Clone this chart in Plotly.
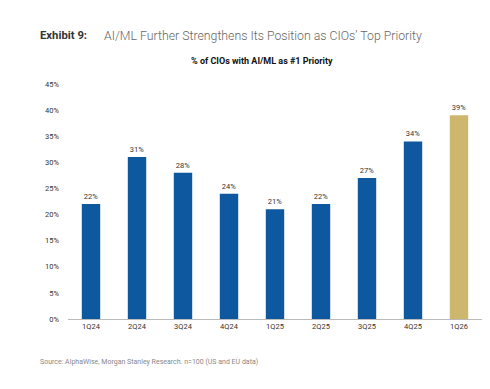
import plotly.graph_objects as go

categories = ["1Q24", "2Q24", "3Q24", "4Q24", "1Q25", "2Q25", "3Q25", "4Q25", "1Q26"]
values = [22, 31, 28, 24, 21, 22, 27, 34, 39]
bar_colors = ["#0E58A0"] * 8 + ["#CDB76E"]
y_ticks = [0, 5, 10, 15, 20, 25, 30, 35, 40, 45]
y_tick_labels = [f"{v}%" for v in y_ticks]

# page body has an 8px default margin; size the figure to fill the rest
OFF = 8
W, H = 490 - OFF, 389 - OFF
l, r, t, b = 68 - OFF, 8, 84 - OFF, 70

fig = go.Figure(go.Bar(
    x=categories, y=values,
    marker=dict(color=bar_colors, line=dict(width=0)),
    text=[f"{v}%" for v in values], textposition="outside",
    textfont=dict(size=7.5, color="#333333", family="Roboto"),
    cliponaxis=False, width=0.4,
))

fig.update_layout(
    width=W, height=H,
    margin=dict(l=l, r=r, t=t, b=b, autoexpand=False),
    plot_bgcolor="white", paper_bgcolor="white",
    showlegend=False,
    font=dict(family="Roboto", color="#333333"),
    xaxis=dict(showline=True, linecolor="#BBBBBB", linewidth=1, ticks="",
               tickfont=dict(size=7.5, color="#333333"), showgrid=False,
               automargin=False),
    yaxis=dict(range=[0, 45], tickvals=y_ticks, ticktext=y_tick_labels,
               showgrid=False, zeroline=False, showline=False, ticks="",
               tickfont=dict(size=7.5, color="#333333"), ticklabelstandoff=8,
               automargin=False),
)

pw, ph = W - l - r, H - t - b
def px(x): return (x - OFF - l) / pw
def py(y): return (H - b - (y - OFF)) / ph

fig.add_annotation(text="<b>Exhibit 9:</b>", x=px(38), y=py(36), xref="paper", yref="paper",
                   xanchor="left", yanchor="middle", showarrow=False,
                   font=dict(size=11.3, color="#333333", family="Roboto"))
fig.add_annotation(text="AI/ML Further Strengthens Its Position as CIOs’ Top Priority",
                   x=px(102), y=py(36), xref="paper", yref="paper",
                   xanchor="left", yanchor="middle", showarrow=False,
                   font=dict(size=12.3, color="#666666", family="Roboto Light, Roboto"))
fig.add_annotation(text="<b>% of CIOs with AI/ML as #1 Priority</b>",
                   x=px(262), y=py(61), xref="paper", yref="paper",
                   xanchor="center", yanchor="middle", showarrow=False,
                   font=dict(size=9, color="#111111", family="Roboto"))
fig.add_annotation(text="Source: AlphaWise, Morgan Stanley Research. n=100 (US and EU data)",
                   x=px(38), y=py(362), xref="paper", yref="paper",
                   xanchor="left", yanchor="middle", showarrow=False,
                   font=dict(size=7, color="#888888", family="Roboto"))

fig.write_html("out.html")
